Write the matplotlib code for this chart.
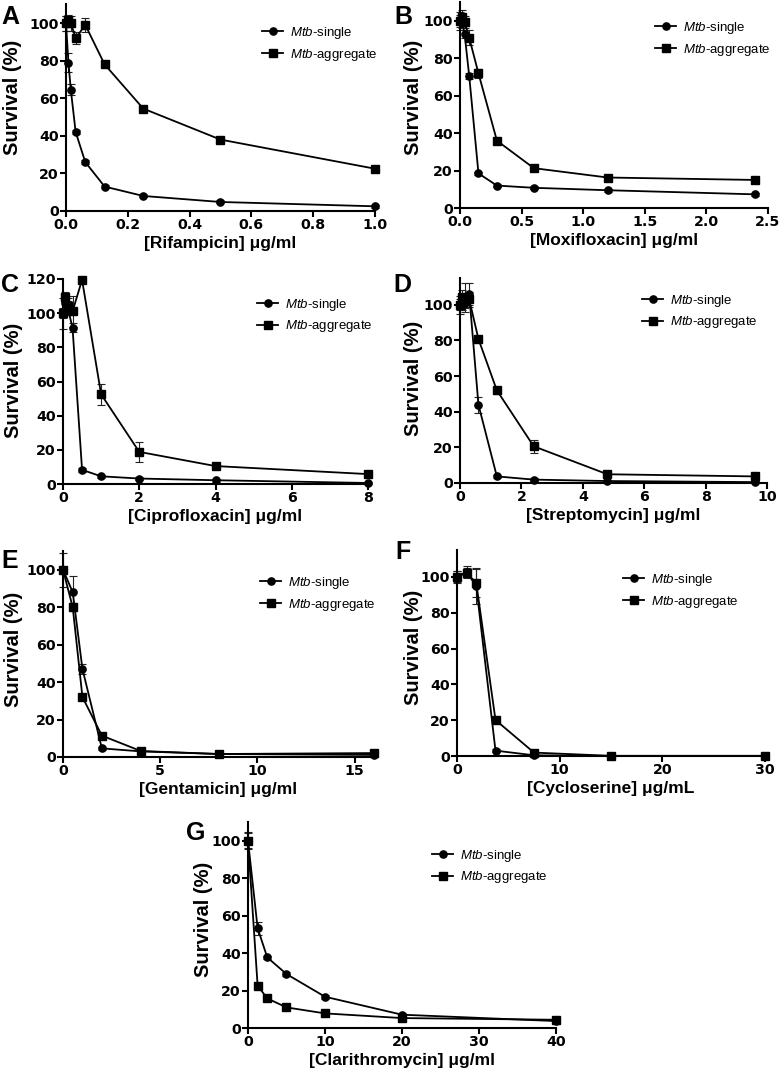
import matplotlib
matplotlib.use("Agg")
import matplotlib.pyplot as plt
from matplotlib.ticker import FormatStrFormatter

plt.rcParams['font.family'] = ['Liberation Sans', 'DejaVu Sans']
plt.rcParams['mathtext.fontset'] = 'custom'
plt.rcParams['mathtext.it'] = 'Liberation Sans:italic'
plt.rcParams['mathtext.rm'] = 'Liberation Sans'

# ---------------- data ----------------
series_labels = [r'$\mathit{Mtb}$-single', r'$\mathit{Mtb}$-aggregate']

A_x = [0, 0.0078, 0.0156, 0.03125, 0.0625, 0.125, 0.25, 0.5, 1.0]
A_single = [100, 79, 64.5, 42, 26, 13, 8, 4.8, 2.5]
A_single_err = [4, 5, 3, 1, 1, 1, 0.8, 0.8, 0.8]
A_agg = [100, 101.5, 100, 92, 99, 78, 54.5, 38, 22.5]
A_agg_err = [4, 3, 4, 3, 3.5, 1, 1, 1, 1.5]

B_x = [0, 0.01875, 0.0375, 0.075, 0.15, 0.3, 0.6, 1.2, 2.4]
B_single = [100, 99, 93, 70.5, 18.5, 12, 10.8, 9.5, 7.3]
B_single_err = [5, 3, 2, 1.5, 1, 1, 0.8, 0.8, 0.8]
B_agg = [100, 102, 99.5, 91, 72, 36, 21.3, 16.3, 15]
B_agg_err = [3, 4, 3, 4, 2.5, 1.5, 1, 1, 1]

C_x = [0, 0.0625, 0.125, 0.25, 0.5, 1, 2, 4, 8]
C_single = [100, 106, 103, 91.5, 8.3, 4.5, 3.2, 2.2, 0.6]
C_single_err = [9, 3, 4, 2.5, 1, 0.8, 0.8, 0.8, 0.5]
C_agg = [100, 109.5, 104, 101, 119.5, 52.5, 18.8, 10.5, 5.8]
C_agg_err = [3, 3, 5, 9, 1, 6, 6, 1, 1]

D_x = [0, 0.075, 0.15, 0.3, 0.6, 1.2, 2.4, 4.8, 9.6]
D_single = [100, 100, 101, 106, 44, 3.7, 1.9, 1.1, 0.5]
D_single_err = [5, 3, 3, 6, 4.5, 1, 0.8, 0.8, 0.5]
D_agg = [100, 104.3, 104, 103, 80.8, 52, 20.6, 4.9, 3.7]
D_agg_err = [3, 4, 8, 4, 1.5, 2, 3.5, 1, 1]

E_x = [0, 0.5, 1, 2, 4, 8, 16]
E_single = [100, 88, 47, 4.6, 3, 1.6, 1.1]
E_single_err = [9, 8.5, 2.5, 0.8, 0.8, 0.5, 0.5]
E_agg = [100, 80, 32, 11.4, 3.2, 1.6, 2.1]
E_agg_err = [2, 2, 1, 1, 1, 0.8, 0.8]

F_x = [0, 0.9375, 1.875, 3.75, 7.5, 15, 30]
F_single = [100, 102.8, 94.8, 3, 0.4, 0, 0]
F_single_err = [3.5, 3, 10, 0.8, 0.5, 0.3, 0.3]
F_agg = [100, 102.2, 96.6, 20.1, 1.9, 0.1, 0.1]
F_agg_err = [3, 3, 8, 1, 0.8, 0.3, 0.3]

G_x = [0, 1.25, 2.5, 5, 10, 20, 40]
G_single = [100, 53.3, 37.7, 28.8, 16.7, 7.1, 3.7]
G_single_err = [4.5, 3.5, 1, 1, 1, 0.8, 0.8]
G_agg = [100, 22.6, 15.8, 11, 7.8, 5.3, 4.4]
G_agg_err = [4, 1, 1, 1, 0.8, 0.8, 0.8]

panel_letters = ['A', 'B', 'C', 'D', 'E', 'F', 'G']
x_titles = ['[Rifampicin] μg/ml', '[Moxifloxacin] μg/ml', '[Ciprofloxacin] μg/ml',
            '[Streptomycin] μg/ml', '[Gentamicin] μg/ml', '[Cycloserine] μg/mL',
            '[Clarithromycin] μg/ml']
y_title = 'Survival (%)'
x_ticks = [[0, 0.2, 0.4, 0.6, 0.8, 1.0], [0, 0.5, 1.0, 1.5, 2.0, 2.5], [0, 2, 4, 6, 8],
           [0, 2, 4, 6, 8, 10], [0, 5, 10, 15], [0, 10, 20, 30], [0, 10, 20, 30, 40]]
y_ticks_std = [0, 20, 40, 60, 80, 100]
y_ticks_c = [0, 20, 40, 60, 80, 100, 120]

panels = [
    (A_x, A_single, A_single_err, A_agg, A_agg_err),
    (B_x, B_single, B_single_err, B_agg, B_agg_err),
    (C_x, C_single, C_single_err, C_agg, C_agg_err),
    (D_x, D_single, D_single_err, D_agg, D_agg_err),
    (E_x, E_single, E_single_err, E_agg, E_agg_err),
    (F_x, F_single, F_single_err, F_agg, F_agg_err),
    (G_x, G_single, G_single_err, G_agg, G_agg_err),
]

# ---------------- layout (pixels) ----------------
W, H = 780, 1073
# left, right, top, bottom, xmax, ymax
rects = [(66, 375, 4.3, 211, 1.0, 110),
         (460, 767.7, 2.3, 208, 2.5, 110),
         (63, 368, 279, 484, 8, 120),
         (460, 767, 278, 483, 10, 115),
         (63, 374, 551, 757, 16, 110),
         (457, 765, 550, 756, 30, 115),
         (248, 556, 822, 1028, 40, 110)]
letter_pos = [(1, 5), (394, 5), (1, 273), (393, 273), (1, 549), (395, 540), (186, 821)]
ylabel_pos = [(22, 97), (423, 97), (23, 380), (423, 378), (23, 649), (423, 647), (213, 919)]
legend_pos = [(262, 44), (655, 39), (257, 315.5), (642, 311.5), (260, 594), (623, 591), (432, 866.5)]

fig = plt.figure(figsize=(W / 100, H / 100), dpi=100)

for i, (x, s, se, a, ae) in enumerate(panels):
    l, r, t, b, xmax, ymax = rects[i]
    ax = fig.add_axes([l / W, 1 - b / H, (r - l) / W, (b - t) / H])
    ax.errorbar(x, s, yerr=se, fmt='none', ecolor='#222222', elinewidth=0.8,
                capsize=2.8, capthick=0.8, clip_on=False, zorder=2)
    ax.errorbar(x, a, yerr=ae, fmt='none', ecolor='#222222', elinewidth=0.8,
                capsize=2.8, capthick=0.8, clip_on=False, zorder=2)
    ax.plot(x, s, '-o', color='black', lw=1.3, ms=5.2, clip_on=False, zorder=3,
            label=series_labels[0])
    ax.plot(x, a, '-s', color='black', lw=1.3, ms=5.4, clip_on=False, zorder=4,
            label=series_labels[1])
    ax.set_xlim(0, xmax)
    ax.set_ylim(0, ymax)
    ax.spines['top'].set_visible(False)
    ax.spines['right'].set_visible(False)
    for sp in ('left', 'bottom'):
        ax.spines[sp].set_linewidth(1.5)
    ax.set_xticks(x_ticks[i])
    ax.set_yticks(y_ticks_c if i == 2 else y_ticks_std)
    if i < 2:
        ax.xaxis.set_major_formatter(FormatStrFormatter('%.1f'))
    ax.tick_params(direction='out', length=4, width=1.5, pad=1.2)
    for lab in ax.get_xticklabels() + ax.get_yticklabels():
        lab.set_fontfamily('DejaVu Sans')
        lab.set_fontweight('bold')
        lab.set_fontsize(10.2)
    ax.set_xlabel(x_titles[i], fontsize=12.5, fontweight='bold', labelpad=3)
    ax.set_ylabel(y_title, fontsize=14.5, fontweight='bold')
    yx, yy = ylabel_pos[i]
    ax.yaxis.set_label_coords(yx / W, 1 - yy / H, transform=fig.transFigure)
    hx, hy = legend_pos[i]
    ax.legend(loc='center left', bbox_to_anchor=(hx / W, 1 - hy / H),
              bbox_transform=fig.transFigure, frameon=False, borderpad=0,
              borderaxespad=0, fontsize=9.5, handlelength=1.6,
              handletextpad=0.5, labelspacing=0.45)
    lx, ly = letter_pos[i]
    fig.text(lx / W, 1 - ly / H, panel_letters[i], fontsize=18, fontweight='bold',
             ha='left', va='top')

fig.savefig('out.png', dpi=100)
